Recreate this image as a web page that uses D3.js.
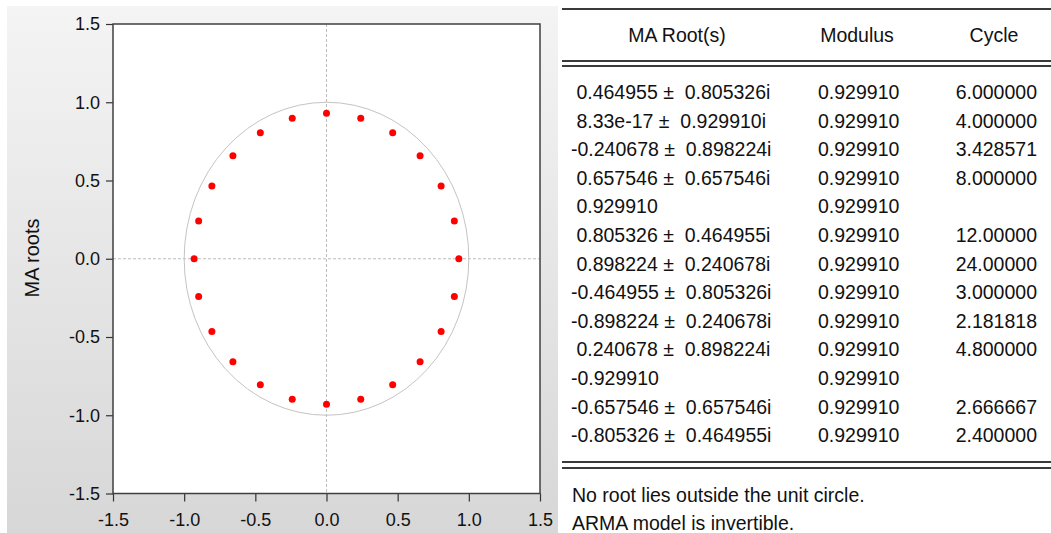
<!DOCTYPE html>
<html>
<head>
<meta charset="utf-8">
<script src="https://cdn.jsdelivr.net/npm/d3@7"></script>
<style>
  body { margin: 0; background: #fff; }
  text { font-family: "Liberation Sans", Arial, sans-serif; fill: #111; }
</style>
</head>
<body>
<svg id="canvas"></svg>
<script>
// roots table (EViews output)
const rootRe = ["0.464955", "8.33e-17", "-0.240678", "0.657546", "0.929910", "0.805326", "0.898224",
                "-0.464955", "-0.898224", "0.240678", "-0.929910", "-0.657546", "-0.805326"];
const rootIm = ["0.805326", "0.929910", "0.898224", "0.657546", null, "0.464955", "0.240678",
                "0.805326", "0.240678", "0.898224", null, "0.657546", "0.464955"];
const modulus = ["0.929910", "0.929910", "0.929910", "0.929910", "0.929910", "0.929910", "0.929910",
                 "0.929910", "0.929910", "0.929910", "0.929910", "0.929910", "0.929910"];
const cycle = ["6.000000", "4.000000", "3.428571", "8.000000", "", "12.00000", "24.00000",
               "3.000000", "2.181818", "4.800000", "", "2.666667", "2.400000"];
const headers = ["MA Root(s)", "Modulus", "Cycle"];
const notes = ["No root lies outside the unit circle.", "ARMA model is invertible."];
const ticks = [-1.5, -1.0, -0.5, 0.0, 0.5, 1.0, 1.5];

const width = 1051;
const height = 533;
const svg = d3.select("#canvas").attr("width", width).attr("height", height);

// each complex row gives a conjugate pair
const points = [];
rootRe.forEach((r, i) => {
    const re = +r;
    if (rootIm[i] === null) {
        points.push({ re: re, im: 0 });
    } else {
        points.push({ re: re, im: +rootIm[i] });
        points.push({ re: re, im: -rootIm[i] });
    }
});

// left panel background
const grad = svg.append("defs").append("linearGradient")
    .attr("id", "bg").attr("x1", 0).attr("y1", 0).attr("x2", 0).attr("y2", 1);
grad.append("stop").attr("offset", "0%").attr("stop-color", "#f4f4f4");
grad.append("stop").attr("offset", "100%").attr("stop-color", "#d7d7d7");
svg.append("rect").attr("x", 7).attr("y", 6).attr("width", 551).attr("height", 527)
    .attr("fill", "url(#bg)");

// plot area
const marginLeft = 113, marginRight = 540, marginTop = 24, marginBottom = 493.5;
const xScale = d3.scaleLinear().domain([-1.5, 1.5]).range([marginLeft, marginRight]);
const yScale = d3.scaleLinear().domain([-1.5, 1.5]).range([marginBottom, marginTop]);

svg.append("rect")
    .attr("x", marginLeft).attr("y", marginTop)
    .attr("width", marginRight - marginLeft).attr("height", marginBottom - marginTop)
    .attr("fill", "#fff");

// zero lines
svg.append("line")
    .attr("x1", xScale(0)).attr("x2", xScale(0)).attr("y1", marginTop).attr("y2", marginBottom)
    .attr("stroke", "#bdbdbd").attr("stroke-dasharray", "3,2");
svg.append("line")
    .attr("x1", marginLeft).attr("x2", marginRight).attr("y1", yScale(0)).attr("y2", yScale(0))
    .attr("stroke", "#bdbdbd").attr("stroke-dasharray", "3,2");

// unit circle
svg.append("ellipse")
    .attr("cx", xScale(0)).attr("cy", yScale(0))
    .attr("rx", xScale(1) - xScale(0)).attr("ry", yScale(0) - yScale(1))
    .attr("fill", "none").attr("stroke", "#c4c4c4").attr("stroke-width", 1);

svg.append("g")
    .selectAll("circle")
    .data(points)
    .join("circle")
        .attr("cx", d => xScale(d.re))
        .attr("cy", d => yScale(d.im))
        .attr("r", 3.5)
        .attr("fill", "#ff0000");

// axes
const fmt = d => d.toFixed(1);
const xAxis = svg.append("g")
    .attr("transform", `translate(0,${marginBottom})`)
    .call(d3.axisBottom(xScale).tickValues(ticks).tickFormat(fmt).tickSize(8).tickSizeOuter(0).tickPadding(12));
const yAxis = svg.append("g")
    .attr("transform", `translate(${marginLeft},0)`)
    .call(d3.axisLeft(yScale).tickValues(ticks).tickFormat(fmt).tickSize(7).tickSizeOuter(0).tickPadding(6));
[xAxis, yAxis].forEach(a => {
    a.select(".domain").remove();
    a.selectAll("line").attr("stroke", "#333").attr("stroke-width", 1.2);
    a.selectAll("text").attr("font-size", 18).attr("fill", "#111")
        .attr("font-family", "'Liberation Sans', Arial, sans-serif");
});

svg.append("rect")
    .attr("x", marginLeft).attr("y", marginTop)
    .attr("width", marginRight - marginLeft).attr("height", marginBottom - marginTop)
    .attr("fill", "none").attr("stroke", "#404040").attr("stroke-width", 1.5);

svg.append("text")
    .attr("transform", `translate(39,258) rotate(-90)`)
    .attr("text-anchor", "middle")
    .attr("font-size", 20)
    .text("MA roots");

// table on the right
const tx = 562;
const rule = (y, w) => svg.append("line")
    .attr("x1", tx).attr("x2", width).attr("y1", y).attr("y2", y)
    .attr("stroke", "#3a3a3a").attr("stroke-width", w);
rule(9, 2);
rule(61, 1.8); rule(66, 1.8);
rule(462, 1.8); rule(468, 1.8);

const headerX = [677, 857, 994];
svg.append("g").selectAll("text")
    .data(headers)
    .join("text")
        .attr("x", (d, i) => headerX[i])
        .attr("y", 42)
        .attr("text-anchor", "middle")
        .attr("font-size", 19.5)
        .text(d => d);

const rowY = i => 99 + i * 28.6;
const rows = svg.append("g").attr("font-size", 19.5);
rows.selectAll(".c1")
    .data(rootRe)
    .join("text")
        .attr("class", "c1")
        .attr("x", 571)
        .attr("y", (d, i) => rowY(i))
        .style("white-space", "pre")
        .text((d, i) => {
            const re = d.startsWith("-") ? d : " " + d;
            return rootIm[i] === null ? re : re + " \u00b1  " + rootIm[i] + "i";
        });
rows.selectAll(".c2")
    .data(modulus)
    .join("text")
        .attr("class", "c2")
        .attr("x", 818)
        .attr("y", (d, i) => rowY(i))
        .text(d => d);
rows.selectAll(".c3")
    .data(cycle)
    .join("text")
        .attr("class", "c3")
        .attr("x", 1037)
        .attr("y", (d, i) => rowY(i))
        .attr("text-anchor", "end")
        .text(d => d);

svg.append("g").selectAll("text")
    .data(notes)
    .join("text")
        .attr("x", 572)
        .attr("y", (d, i) => 502 + i * 28)
        .attr("font-size", 19.5)
        .text(d => d);
</script>
</body>
</html>
